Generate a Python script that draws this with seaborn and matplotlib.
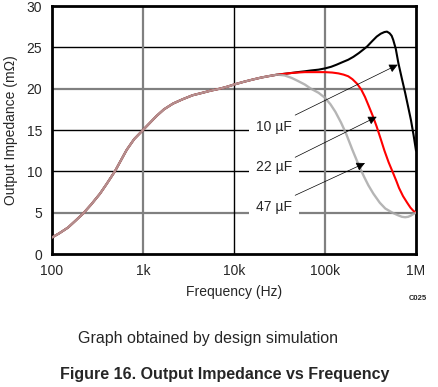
import matplotlib
matplotlib.use("Agg")
import matplotlib.pyplot as plt
import pandas as pd
import seaborn as sns

# shared low-frequency part (all three curves overlap here)
common_freq = [100, 120, 150, 180, 220, 270, 337, 400, 491, 570, 662, 800,
               1000, 1200, 1410, 1700, 2140, 2700, 3500, 4500, 5500, 7000,
               8500, 10000, 13000, 16000, 20000, 25000, 30000]
common_z = [2.0, 2.5, 3.2, 4.0, 4.9, 6.0, 7.3, 8.5, 10.0, 11.3, 12.6, 13.9,
            15.0, 15.9, 16.7, 17.5, 18.2, 18.7, 19.2, 19.5, 19.75, 20.0,
            20.25, 20.5, 20.85, 21.1, 21.35, 21.55, 21.7]

freq_10u = [36e3, 43e3, 50e3, 60e3, 70e3, 85e3, 100e3, 117e3, 134e3, 155e3,
            180e3, 205e3, 235e3, 265e3, 290e3, 330e3, 370e3, 410e3, 450e3,
            480e3, 513e3, 540e3, 562e3, 600e3, 640e3, 700e3, 760e3, 820e3,
            880e3, 940e3, 1e6]
z_10u = [21.8, 21.9, 22.0, 22.1, 22.2, 22.3, 22.45, 22.65, 22.9, 23.2,
         23.5, 23.85, 24.3, 24.75, 25.1, 25.75, 26.3, 26.65, 26.85,
         26.9, 26.7, 26.4, 25.9, 24.8, 23.1, 21.2, 19.5, 17.8,
         16.2, 14.4, 12.5]

freq_22u = [36e3, 43e3, 50e3, 60e3, 70e3, 85e3, 100e3, 120e3, 140e3, 160e3,
            180e3, 200e3, 225e3, 250e3, 275e3, 300e3, 335e3, 370e3, 410e3,
            450e3, 500e3, 560e3, 610e3, 650e3, 720e3, 800e3, 870e3, 940e3, 1e6]
z_22u = [21.8, 21.9, 21.95, 22.0, 22.0, 22.0, 22.0, 21.95, 21.85, 21.7,
         21.5, 21.15, 20.6, 19.9, 19.0, 18.0, 16.7, 15.4, 13.9,
         12.5, 11.1, 9.8, 8.8, 8.0, 7.0, 6.2, 5.6, 5.2, 5.0]

freq_47u = [36e3, 43e3, 50e3, 60e3, 70e3, 85e3, 100e3, 115e3, 130e3, 150e3,
            170e3, 200e3, 220e3, 240e3, 270e3, 300e3, 340e3, 400e3, 460e3,
            550e3, 630e3, 700e3, 760e3, 820e3, 880e3, 940e3, 1e6]
z_47u = [21.6, 21.3, 20.95, 20.5, 20.0, 19.5, 18.9, 18.1, 17.2, 15.9,
         14.6, 12.6, 11.5, 10.5, 9.3, 8.3, 7.3, 6.2, 5.5,
         5.0, 4.7, 4.5, 4.45, 4.5, 4.65, 4.85, 5.0]

labels = ["10 µF", "22 µF", "47 µF"]
label_z = [15.4, 10.5, 5.7]
arrow_start = [(47e3, 16.8), (47e3, 11.7), (47e3, 7.1)]
arrow_tip = [(630e3, 22.9), (370e3, 16.6), (275e3, 11.0)]

curves = {
    "10 µF": pd.DataFrame({"freq": common_freq + freq_10u, "z": common_z + z_10u}),
    "22 µF": pd.DataFrame({"freq": common_freq + freq_22u, "z": common_z + z_22u}),
    "47 µF": pd.DataFrame({"freq": common_freq + freq_47u, "z": common_z + z_47u}),
}

sns.set_style("white")
plt.rcParams["font.family"] = ["Liberation Sans", "DejaVu Sans"]

fig = plt.figure(figsize=(4.38, 3.87), dpi=100)
ax = fig.add_axes([52 / 438, 1 - 254 / 387, 364 / 438, 248 / 387])

# grid
for yv in [5, 10, 15, 20, 25]:
    if yv in (5, 20):
        ax.axhline(yv, color="#808080", lw=1.6, zorder=1)
    else:
        ax.axhline(yv, color="black", lw=1.0, zorder=1)
for xv in [1e3, 1e4, 1e5]:
    if xv in (1e3, 1e5):
        ax.axvline(xv, color="#808080", lw=1.6, zorder=1)
    else:
        ax.axvline(xv, color="black", lw=1.0, zorder=1)

sns.lineplot(data=curves["10 µF"], x="freq", y="z", color="black", lw=1.5,
             ax=ax, zorder=3, sort=False)
sns.lineplot(data=curves["22 µF"], x="freq", y="z", color="#ff0000", lw=1.5,
             ax=ax, zorder=3, sort=False)
sns.lineplot(data=curves["47 µF"], x="freq", y="z", color="#a8a8a8", lw=1.7,
             alpha=0.85, ax=ax, zorder=3, sort=False)

ax.set_xscale("log")
ax.set_xlim(100, 1e6)
ax.set_ylim(0, 30)
ax.set_xticks([100, 1e3, 1e4, 1e5, 1e6])
ax.set_xticklabels(["100", "1k", "10k", "100k", "1M"])
ax.set_yticks(range(0, 31, 5))
ax.minorticks_off()
ax.tick_params(length=0, labelsize=10, pad=7)
for s in ax.spines.values():
    s.set_color("black")
    s.set_linewidth(2)
ax.set_xlabel("Frequency (Hz)", fontsize=10, labelpad=5)
ax.set_ylabel("Output Impedance (mΩ)", fontsize=10, labelpad=6)

for lab, lz, st, tip in zip(labels, label_z, arrow_start, arrow_tip):
    ax.text(27.5e3, lz, lab, fontsize=10, ha="center", va="center", zorder=4,
            bbox=dict(boxstyle="square,pad=0.5", fc="white", ec="none"))
    ax.annotate("", xy=tip, xytext=st, zorder=5,
                arrowprops=dict(arrowstyle="-|>", color="black", lw=0.5,
                                mutation_scale=13, shrinkA=0, shrinkB=0))

fig.text(418 / 438, 1 - 299 / 387, "C025", fontsize=5.5, weight="bold",
         ha="center", va="center")
fig.text(208 / 438, 1 - 338 / 387, "Graph obtained by design simulation",
         fontsize=11.5, ha="center", va="center")
fig.text(225 / 438, 1 - 374 / 387, "Figure 16. Output Impedance vs Frequency",
         fontsize=11.5, weight="bold", ha="center", va="center")

fig.savefig("out.png", dpi=100)
